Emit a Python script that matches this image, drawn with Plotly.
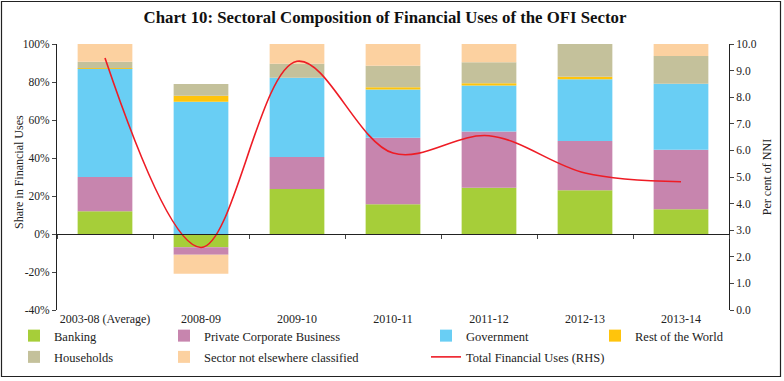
import plotly.graph_objects as go

categories = ["2003-08 (Average)", "2008-09", "2009-10", "2010-11", "2011-12", "2012-13", "2013-14"]

banking = [12.0, -7.0, 23.7, 15.6, 24.4, 23.0, 13.0]
private_corp = [18.0, -3.9, 16.8, 35.1, 29.5, 25.9, 31.4]
government = [57.0, 69.6, 41.8, 25.4, 24.3, 32.5, 34.7]
rest_of_world = [0.3, 3.2, 0.0, 1.1, 1.1, 1.4, 0.0]
households = [3.4, 6.2, 7.3, 11.4, 11.1, 17.2, 14.6]
sector_nec = [9.3, -10.0, 10.4, 11.4, 9.6, 0.0, 6.3]
total_fin_uses = [9.47, 2.35, 9.35, 5.9, 6.55, 5.15, 4.82]

left_ticks = [-40, -20, 0, 20, 40, 60, 80, 100]
right_ticks = [0, 1, 2, 3, 4, 5, 6, 7, 8, 9, 10]

FONT = "Liberation Serif"

series = [
    ("Banking", banking, "#A6CE39", "legend"),
    ("Private Corporate Business", private_corp, "#C785AE", "legend2"),
    ("Government", government, "#69CEF4", "legend3"),
    ("Rest of the World", rest_of_world, "#FFC40C", "legend4"),
    ("Households", households, "#C4C19B", "legend"),
    ("Sector not elsewhere classified", sector_nec, "#FCD1A0", "legend2"),
]

fig = go.Figure()
for name, vals, color, leg in series:
    fig.add_trace(go.Bar(
        x=categories, y=vals, name=name, marker=dict(color=color, line=dict(width=0)),
        width=0.57, legend=leg, legendgroup=name,
    ))

fig.add_trace(go.Scatter(
    x=categories, y=total_fin_uses, name="Total Financial Uses (RHS)", yaxis="y2",
    mode="lines", line=dict(color="#EE1C25", width=1.6, shape="spline", smoothing=1),
    legend="legend3", legendgroup="total",
))

W, H = 784, 381
L, R, T, B = 57, 55, 44, 71
pw, ph = W - L - R, H - T - B

def px_x(p):
    return (p - L) / pw

def px_y(p):
    return (H - B - p) / ph

legend_common = dict(
    orientation="v", traceorder="grouped", tracegroupgap=2,
    font=dict(family=FONT, size=12.5, color="#222"),
    bgcolor="rgba(0,0,0,0)", yanchor="top", xanchor="left",
    y=px_y(321),
)

fig.update_layout(
    width=W, height=H,
    margin=dict(l=L, r=R, t=T, b=B, autoexpand=False),
    paper_bgcolor="white", plot_bgcolor="white",
    barmode="relative", bargap=0.43,
    font=dict(family=FONT, size=12, color="#222"),
    title=dict(
        text="<b>Chart 10: Sectoral Composition of Financial Uses of the OFI Sector</b>",
        x=px_x(385), xref="paper", xanchor="center", y=1 - 17 / H, yanchor="middle",
        font=dict(family=FONT, size=16.8, color="#111"),
    ),
    xaxis=dict(
        type="category", categoryorder="array", categoryarray=categories,
        range=[-0.5, 6.5], showline=False, ticks="", showgrid=False,
        tickfont=dict(family=FONT, size=12, color="#222"),
    ),
    xaxis2=dict(
        type="category", categoryorder="array", categoryarray=categories,
        range=[-0.5, 6.5], overlaying="x", anchor="free", position=px_y(234),
        showline=True, linecolor="#222", linewidth=1, ticks="outside",
        tickson="boundaries", ticklen=4, tickcolor="#444",
        showticklabels=False, showgrid=False,
    ),
    yaxis=dict(
        range=[-40, 100], tickvals=left_ticks,
        ticktext=[f"{v}%" for v in left_ticks],
        showline=True, linecolor="#222", linewidth=1, ticks="outside", ticklen=4,
        tickcolor="#444", showgrid=False, zeroline=False,
        tickfont=dict(family=FONT, size=11.5, color="#222"),
    ),
    yaxis2=dict(
        range=[0, 10], tickvals=right_ticks, tickformat=".1f",
        overlaying="y", side="right", anchor="x",
        showline=True, linecolor="#222", linewidth=1, ticks="outside", ticklen=4,
        tickcolor="#444", showgrid=False, zeroline=False,
        tickfont=dict(family=FONT, size=11.5, color="#222"),
        title=dict(text="Per cent of NNI", font=dict(family=FONT, size=12, color="#222"), standoff=6),
    ),
    legend=dict(legend_common, x=px_x(14)),
    legend2=dict(legend_common, x=px_x(164)),
    legend3=dict(legend_common, x=px_x(426)),
    legend4=dict(legend_common, x=px_x(595)),
    showlegend=True,
    annotations=[dict(
        text="Share in Financial Uses", textangle=-90, showarrow=False,
        xref="paper", yref="paper", x=px_x(19), y=px_y(172),
        xanchor="center", yanchor="middle",
        font=dict(family=FONT, size=12, color="#222"),
    )],
    shapes=[dict(
        type="rect", xref="paper", yref="paper",
        x0=px_x(1.5), x1=px_x(780.5), y0=px_y(376.5), y1=px_y(1.5),
        line=dict(color="#222", width=1.2), fillcolor="rgba(0,0,0,0)", layer="above",
    )],
)

# invisible helper trace so the zero-line axis (xaxis2) is drawn
fig.add_trace(go.Scatter(x=categories, y=[None] * len(categories), xaxis="x2", showlegend=False, hoverinfo="skip"))

fig.write_html("out.html", config={"displayModeBar": False},
               post_script="document.body.style.margin='0px';")
